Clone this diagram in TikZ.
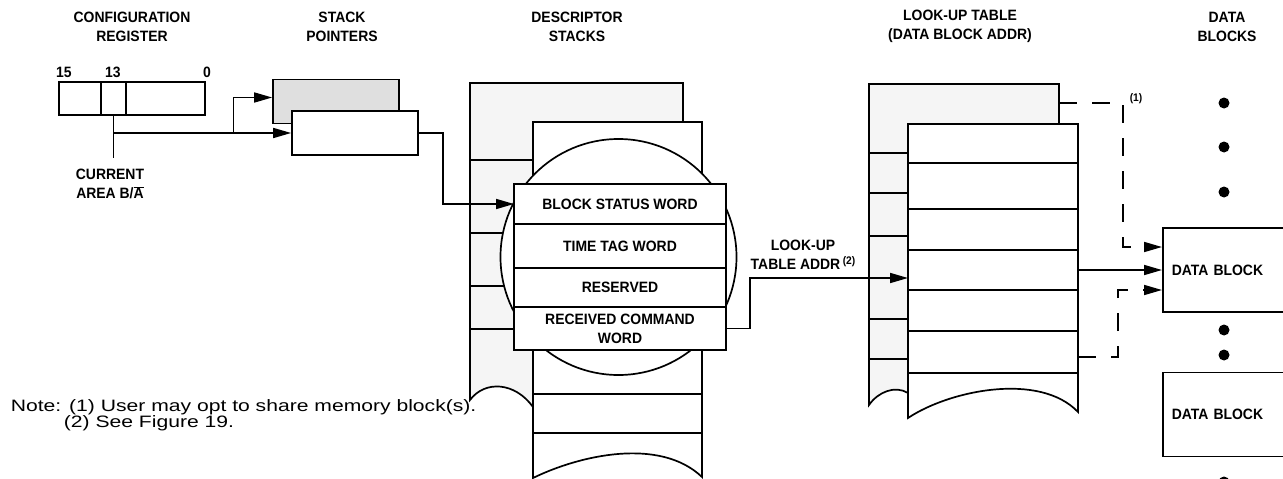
\documentclass[tikz,border=0pt]{standalone}
\usepackage{fontspec}
\setmainfont{Liberation Sans}
\newfontfamily\notefont{Liberation Sans}[FakeStretch=1.28]
\newfontfamily\lblfont{Liberation Sans}[FakeStretch=0.93]
\usetikzlibrary{arrows.meta,positioning}
\newcommand{\lbl}{\lblfont\fontsize{15}{19}\selectfont\bfseries}
\newcommand{\fnmark}[1]{{\fontsize{11}{12}\selectfont\raisebox{5pt}{#1}}}

\begin{document}
\begin{tikzpicture}[x=1pt,y=-1pt,line width=1.7pt,>={Triangle[length=18pt,width=10pt]}, every node/.style={font=\lbl}]
\tikzstyle{hdr}=[align=center, inner sep=0pt]
\tikzstyle{reg}=[draw, minimum height=33pt, inner sep=0pt, outer sep=0pt]
\tikzstyle{ptr}=[draw, minimum width=126pt, minimum height=44pt, inner sep=0pt]
\tikzstyle{word}=[draw, fill=white, minimum width=212pt, inner sep=0pt, outer sep=0pt, align=center]
\tikzstyle{blk}=[draw, minimum height=84pt, text width=122pt, inner xsep=9pt, align=left, anchor=west]
\tikzstyle{dotmark}=[circle, fill, minimum size=11pt, inner sep=0pt]
\tikzstyle{shared}=[dash pattern=on 18pt off 15pt]
\useasboundingbox (0,0) rectangle (1283,479);
\clip (0,0) rectangle (1283,479);

\node[hdr] (hcfg) at (132,26.5) {CONFIGURATION\\REGISTER};
\node[hdr] (hptr) at (342,26.5) {STACK\\POINTERS};
\node[hdr] (hdsc) at (577,26.5) {DESCRIPTOR\\STACKS};
\node[hdr] (hlut) at (960,26.5) {LOOK-UP TABLE\\(DATA BLOCK ADDR)};
\node[hdr] (hdat) at (1227,26.5) {DATA\\BLOCKS};

\node[reg, minimum width=42pt, anchor=north west] (b15) at (59,82) {};
\node[reg, minimum width=25pt, right=0pt of b15] (b13) {};
\node[reg, minimum width=79pt, right=0pt of b13] (b0) {};
\node (n15) at (64,72) {15};
\node (n13) at (113,72) {13};
\node (n0) at (207,72) {0};
\node[hdr] (cur) at (110,184) {CURRENT\\AREA B/$\overline{\hbox{A}}$};

\node[ptr, fill=gray!25] (spB) at (336,101.5) {};
\node[ptr, fill=white] (spA) at (355,133) {};

\draw (b13.south) -- ++(0,43);
\coordinate (j) at (b13.south |- spA.west);
\draw[->] (j) -- (spA.west);
\draw[->] (j) ++(120,0) |- ([yshift=4pt]spB.west);

\draw[fill=gray!8] (470,400) -- (470,83) -- (683,83) -- (683,122) -- (533,122) -- (533,407) .. controls (515,382) and (485,380) .. (470,400) -- cycle;
\draw (470,160)--(533,160) (470,233)--(533,233) (470,286)--(533,286) (470,329)--(533,329);
\draw[fill=white] (533,478) -- (533,122) -- (702,122) -- (702,477) .. controls (660,437) and (580,455) .. (533,478) -- cycle;
\draw (533,394)--(702,394) (533,433)--(702,433);
\node[circle, draw, fill=white, minimum size=236pt, inner sep=0pt] (lens) at (618.5,257) {};

\node[word, minimum height=40pt, anchor=north west] (bsw) at (514,184) {BLOCK STATUS WORD};
\node[word, minimum height=44pt, below=0pt of bsw] (ttw) {TIME TAG WORD};
\node[word, minimum height=39pt, below=0pt of ttw] (rsv) {RESERVED};
\node[word, minimum height=43pt, below=0pt of rsv] (rcw) {RECEIVED COMMAND\\WORD};

\draw[->] (spA.east) -- ++(24,0) |- (bsw.west);

\draw[fill=gray!8] (869,405) -- (869,84) -- (1059,84) -- (1059,124) -- (908,124) -- (908,393) .. controls (895,385) and (878,392) .. (869,405) -- cycle;
\draw (869,153)--(908,153) (869,193)--(908,193) (869,236)--(908,236) (869,319)--(908,319) (869,359)--(908,359);
\draw[fill=white] (908,418) -- (908,124) -- (1078,124) -- (1078,412) .. controls (1040,372) and (950,390) .. (908,418) -- cycle;
\draw (908,163)--(1078,163) (908,209)--(1078,209) (908,250)--(1078,250) (908,290)--(1078,290) (908,331)--(1078,331) (908,373)--(1078,373);
\coordinate (lutin) at (908,278);
\coordinate (lutout) at (1078,270);
\coordinate (lutbk) at (1059,103);
\coordinate (lutlo) at (1078,357);

\draw[->] (rcw.east) -- ++(24,0) |- (lutin);
\node[hdr] (ladr) at (803,255) {LOOK-UP\\TABLE ADDR\,\fnmark{(2)}};

\node[blk] (db1) at (1162,270) {DATA BLOCK};
\node[blk] (db2) at (1162,414.5) {DATA BLOCK};
\node[dotmark] (d1) at (1224,103) {};
\node[dotmark] (d2) at (1224,147) {};
\node[dotmark] (d3) at (1224,192) {};
\node[dotmark] (d4) at (1224,330) {};
\node[dotmark] (d5) at (1224,355) {};
\node[dotmark] (d6) at (1224,482) {};

\draw[->] (lutout) -- (db1.west);
\draw[shared,->] (lutbk) -- ++(64,0) |- ([yshift=23pt]db1.west);
\draw[shared,->] (lutlo) -- ++(40,0) |- ([yshift=-20pt]db1.west);
\node[font=\lblfont\fontsize{11}{12}\selectfont\bfseries] (fn1) at (1136,99) {(1)};

\node[anchor=base west, inner sep=0pt, font=\notefont\fontsize{16.5}{19}\selectfont] (note1) at (10,411) {Note: (1) User may opt to share memory block(s).};
\node[anchor=base west, inner sep=0pt, font=\notefont\fontsize{16.5}{19}\selectfont] (note2) at (63,427) {(2) See Figure 19.};
\end{tikzpicture}
\end{document}
